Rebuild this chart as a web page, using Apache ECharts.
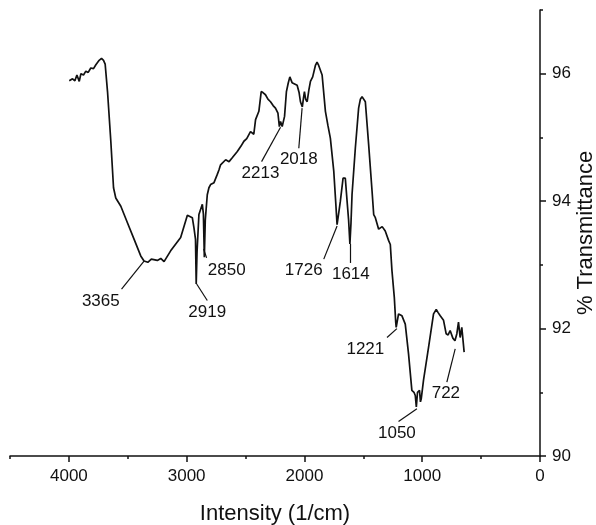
<!DOCTYPE html>
<html>
<head>
<meta charset="utf-8">
<script src="https://cdn.jsdelivr.net/npm/echarts@6/dist/echarts.min.js"></script>
<style>
html,body{margin:0;padding:0;background:#fff;overflow:hidden;}
#chart{width:596px;height:525px;display:block;}
</style>
</head>
<body>
<div id="chart"></div>
<script>
// Wavenumber (1/cm) and % transmittance
const wavenumber = [
  3997,3969,3949,3932,3912,3898,3876,3856,3836,3814,3791,3771,3757,3743,3723,3706,3692,
  3672,3644,3621,3602,3559,3503,3446,3390,3362,3330,3300,3249,3220,3192,3136,3051,2994,
  2952,2938,2925,2919,2912,2896,2867,2858,2850,2842,2825,2811,2797,2768,2740,2726,2712,
  2669,2640,2613,2570,2540,2514,2490,2458,2430,2415,2387,2367,2350,2331,2310,2288,2266,
  2246,2225,2213,2203,2189,2169,2153,2138,2124,2105,2090,2062,2045,2034,2018,2008,2000,
  1990,1977,1962,1949,1930,1907,1893,1879,1865,1850,1822,1800,1780,1751,1735,1723,1710,
  1695,1672,1653,1638,1625,1614,1605,1596,1568,1540,1525,1511,1495,1483,1455,1426,1412,
  1398,1370,1340,1314,1285,1271,1257,1237,1225,1221,1201,1172,1144,1116,1088,1070,1059,
  1050,1040,1023,1015,1008,989,946,904,881,865,847,819,797,780,763,740,722,706,692,678,
  664,644
];
const transmittance = [
  95.89,95.92,95.89,95.98,95.88,96.00,95.98,96.04,96.02,96.09,96.08,96.14,96.12,96.21,96.24,96.21,96.15,
  95.72,94.94,94.21,94.05,93.92,93.66,93.40,93.14,93.06,93.04,93.09,93.07,93.10,93.05,93.22,93.43,93.78,
  93.74,93.58,93.40,92.70,93.20,93.79,93.95,93.80,93.12,93.70,94.10,94.21,94.26,94.29,94.42,94.49,94.57,
  94.65,94.62,94.68,94.78,94.86,94.94,94.98,95.09,95.05,95.28,95.41,95.72,95.70,95.67,95.60,95.56,95.50,
  95.46,95.38,95.17,95.25,95.17,95.33,95.72,95.85,95.95,95.86,95.88,95.82,95.70,95.56,95.48,95.62,95.72,
  95.60,95.56,95.75,95.88,95.95,96.13,96.18,96.13,96.10,95.98,95.41,95.18,94.99,94.47,94.00,93.63,93.80,
  94.00,94.36,94.36,94.00,93.70,93.33,93.65,94.10,94.83,95.46,95.60,95.64,95.62,95.56,94.89,94.16,93.79,
  93.74,93.56,93.60,93.53,93.38,93.32,92.91,92.49,92.10,92.02,92.23,92.20,92.07,91.60,91.03,91.00,90.95,
  90.77,91.00,91.03,90.85,90.90,91.19,91.71,92.23,92.30,92.25,92.20,92.13,91.92,91.90,91.97,91.85,91.81,91.92,92.10,91.86,
  92.02,91.63
];
// Tick values
const xMajorTicks = [0, 1000, 2000, 3000, 4000];
const xMinorTicks = [500, 1500, 2500, 3500, 4500];
const yMajorTicks = [90, 92, 94, 96];
const yMinorTicks = [91, 93, 95, 97];
// Peak annotations: label, point on curve, leader end, label centre (all in data units)
const peakLabels = ['3365','2919','2850','2213','2018','1726','1614','1221','1050','722'];
const peakPoint  = [[3362,93.06],[2915,92.70],[2856,93.25],[2203,95.16],[2020,95.46],[1723,93.61],[1610,93.33],[1215,92.00],[1045,90.74],[720,91.68]];
const leaderEnd  = [[3553,92.62],[2825,92.44],[2831,93.11],[2364,94.62],[2048,94.83],[1836,93.09],[1610,93.03],[1299,91.86],[1201,90.54],[791,91.16]];
const labelPos   = [[3729,92.42],[2825,92.26],[2660,92.92],[2373,94.44],[2048,94.65],[2006,92.91],[1606,92.85],[1483,91.68],[1215,90.36],[799,90.99]];

const FONT = "'Liberation Sans', Arial, sans-serif";
const INK = '#111';

const lineData = wavenumber.map((w, i) => [w, transmittance[i]]);
const labelData = peakLabels.map((t, i) => [labelPos[i][0], labelPos[i][1], t]);
const leaderData = peakLabels.map((t, i) => [{coord: peakPoint[i]}, {coord: leaderEnd[i]}]);

const chart = echarts.init(document.getElementById('chart'), null, {renderer: 'canvas', width: 596, height: 525});
chart.setOption({
  animation: false,
  backgroundColor: '#fff',
  grid: {left: 10, right: 56, top: 10, bottom: 69, containLabel: false, outerBoundsMode: 'none'},
  xAxis: [{
    type: 'value', min: 0, max: 4500, inverse: true,
    name: 'Intensity (1/cm)', nameLocation: 'middle', nameGap: 47, nameMoveOverlap: false,
    nameTextStyle: {fontFamily: FONT, fontSize: 22, color: INK},
    axisLine: {show: true, lineStyle: {color: INK, width: 1.5}},
    axisTick: {show: true, customValues: xMajorTicks, length: 6, lineStyle: {color: INK, width: 1.5}},
    axisLabel: {customValues: xMajorTicks, formatter: v => String(v), fontFamily: FONT, fontSize: 17, color: INK, margin: 12},
    splitLine: {show: false}
  }, {
    type: 'value', min: 0, max: 4500, inverse: true, position: 'bottom',
    axisLine: {show: false},
    axisTick: {show: true, customValues: xMinorTicks, length: 3, lineStyle: {color: INK, width: 1.5}},
    axisLabel: {show: false},
    splitLine: {show: false}
  }],
  yAxis: [{
    type: 'value', min: 90, max: 97, position: 'right',
    name: '% Transmittance', nameLocation: 'middle', nameGap: 46, nameRotate: 90, nameMoveOverlap: false,
    nameTextStyle: {fontFamily: FONT, fontSize: 22, color: INK, align: 'center', verticalAlign: 'middle'},
    axisLine: {show: true, lineStyle: {color: INK, width: 1.5}},
    axisTick: {show: true, customValues: yMajorTicks, length: 6, lineStyle: {color: INK, width: 1.5}},
    axisLabel: {customValues: yMajorTicks, fontFamily: FONT, fontSize: 17, color: INK, margin: 12},
    splitLine: {show: false}
  }, {
    type: 'value', min: 90, max: 97, position: 'right',
    axisLine: {show: false},
    axisTick: {show: true, customValues: yMinorTicks, length: 3, lineStyle: {color: INK, width: 1.5}},
    axisLabel: {show: false},
    splitLine: {show: false}
  }],
  series: [{
    type: 'line',
    data: lineData,
    showSymbol: false,
    symbol: 'none',
    lineStyle: {color: INK, width: 1.7},
    markLine: {
      silent: true, symbol: 'none',
      lineStyle: {color: INK, width: 1.2, type: 'solid', opacity: 1},
      label: {show: false},
      data: leaderData
    }
  }, {
    type: 'scatter',
    data: labelData,
    symbolSize: 1,
    itemStyle: {color: 'rgba(0,0,0,0)', opacity: 1},
    label: {
      show: true, position: 'inside', opacity: 1,
      formatter: p => p.value[2],
      fontFamily: FONT, fontSize: 17, color: INK, textBorderWidth: 0
    }
  }]
});
</script>
</body>
</html>
